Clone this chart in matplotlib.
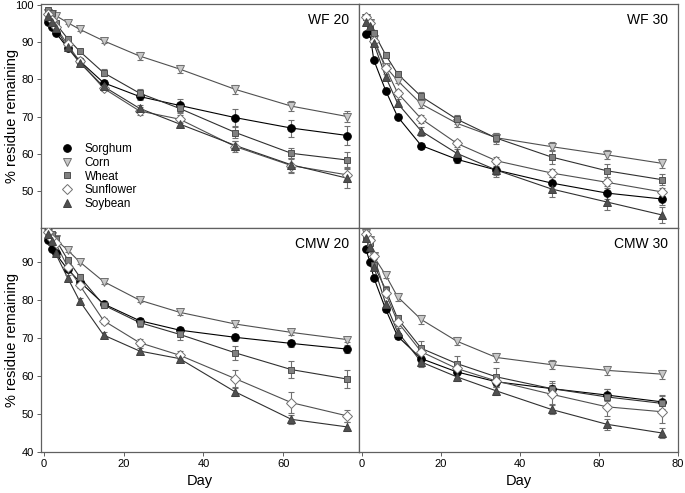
import matplotlib
matplotlib.use("Agg")
import matplotlib.pyplot as plt
import numpy as np

plt.rcParams['font.family'] = ['Liberation Sans', 'DejaVu Sans']

days = [1, 2, 3, 6, 9, 15, 24, 34, 48, 62, 76]
crops = ["Sorghum", "Corn", "Wheat", "Sunflower", "Soybean"]
panels = ["WF 20", "WF 30", "CMW 20", "CMW 30"]

# values (% residue remaining) per panel, per crop
wf20_sorghum = [95.5, 94.2, 92.6, 88.5, 85.0, 79.1, 75.4, 73.0, 69.7, 66.9, 64.9]
wf20_corn = [98.0, 97.6, 97.2, 95.3, 93.5, 90.4, 86.3, 82.8, 77.3, 72.8, 70.0]
wf20_wheat = [98.7, 98.0, 95.1, 91.0, 87.6, 81.8, 76.3, 72.2, 65.7, 60.1, 58.3]
wf20_sunflower = [97.5, 96.0, 94.2, 89.4, 84.9, 77.6, 71.5, 69.3, 61.9, 56.8, 54.3]
wf20_soybean = [97.0, 95.5, 93.8, 88.6, 84.5, 78.1, 72.2, 68.0, 62.2, 57.0, 53.4]

wf30_sorghum = [92.2, 92.5, 85.2, 77.0, 70.0, 62.2, 58.5, 55.6, 52.1, 49.4, 47.8]
wf30_corn = [96.4, 95.1, 90.8, 83.4, 79.7, 73.4, 68.2, 64.3, 61.9, 59.7, 57.4]
wf30_wheat = [96.9, 94.6, 92.6, 86.6, 81.5, 75.4, 69.3, 64.2, 59.1, 55.4, 53.0]
wf30_sunflower = [96.7, 95.2, 90.4, 83.0, 76.4, 69.4, 62.8, 58.1, 54.8, 52.3, 49.7]
wf30_soybean = [95.5, 94.3, 89.7, 80.7, 73.6, 66.1, 60.1, 55.6, 50.5, 47.0, 43.5]

cmw20_sorghum = [95.8, 93.6, 92.3, 88.1, 84.9, 79.0, 74.6, 72.1, 70.2, 68.6, 67.1]
cmw20_corn = [97.8, 97.0, 96.0, 93.2, 90.1, 84.9, 80.0, 76.8, 73.7, 71.5, 69.6]
cmw20_wheat = [98.5, 97.4, 96.0, 90.7, 86.2, 78.7, 74.1, 71.0, 66.1, 61.7, 59.2]
cmw20_sunflower = [98.0, 96.0, 95.0, 88.8, 84.0, 74.6, 68.8, 65.5, 59.3, 53.0, 49.5]
cmw20_soybean = [97.5, 95.5, 92.3, 85.9, 79.8, 70.8, 66.6, 64.6, 55.8, 48.6, 46.6]

cmw30_sorghum = [93.4, 90.1, 85.9, 77.6, 70.5, 64.6, 61.1, 58.5, 56.7, 55.0, 53.2]
cmw30_corn = [97.6, 95.8, 91.5, 86.6, 80.9, 74.9, 69.2, 64.9, 63.0, 61.5, 60.5]
cmw30_wheat = [96.7, 95.0, 89.3, 82.8, 75.2, 67.3, 63.3, 59.8, 56.7, 54.5, 52.8]
cmw30_sunflower = [97.4, 95.8, 91.5, 81.8, 74.3, 66.4, 62.0, 58.7, 55.2, 51.9, 50.6]
cmw30_soybean = [96.3, 94.1, 88.8, 79.1, 71.7, 63.7, 59.8, 56.1, 51.2, 47.3, 45.0]

# standard errors
wf20_err = [[0.5, 0.5, 0.6, 0.6, 0.6, 0.8, 1.0, 1.8, 2.2, 2.3, 2.5],
            [0.3, 0.3, 0.3, 0.4, 0.5, 0.6, 1.0, 1.2, 1.3, 1.3, 1.5],
            [0.3, 0.4, 0.5, 0.6, 0.6, 1.0, 1.2, 1.2, 1.5, 1.5, 2.2],
            [0.3, 0.4, 0.5, 0.6, 0.7, 0.8, 1.2, 1.0, 1.5, 2.0, 2.0],
            [0.3, 0.4, 0.5, 0.6, 0.7, 0.8, 1.0, 0.8, 1.2, 1.8, 2.5]]
wf30_err = [[0.5, 0.5, 0.6, 0.6, 0.6, 0.8, 1.0, 1.2, 1.5, 1.5, 1.5],
            [0.5, 0.5, 0.6, 0.8, 0.8, 1.0, 1.0, 1.2, 1.3, 1.2, 1.2],
            [0.5, 0.5, 0.6, 0.8, 0.8, 1.2, 1.2, 1.5, 1.8, 1.8, 1.5],
            [0.5, 0.5, 0.6, 0.8, 0.8, 1.0, 1.0, 1.0, 1.0, 1.0, 1.2],
            [0.5, 0.5, 0.6, 0.8, 1.0, 1.2, 1.2, 1.8, 2.2, 2.2, 2.2]]
cmw20_err = [[0.5, 0.5, 0.5, 0.6, 0.6, 0.6, 0.8, 0.8, 1.0, 1.0, 1.0],
             [0.3, 0.3, 0.3, 0.4, 0.5, 0.6, 0.6, 0.6, 0.8, 0.6, 0.5],
             [0.3, 0.4, 0.5, 0.6, 0.6, 0.8, 1.2, 1.5, 1.8, 2.2, 2.4],
             [0.3, 0.4, 0.5, 0.6, 0.7, 0.8, 1.0, 1.0, 2.2, 2.8, 1.5],
             [0.3, 0.4, 0.5, 0.6, 0.7, 0.8, 0.8, 0.8, 1.0, 1.2, 1.2]]
cmw30_err = [[0.5, 0.5, 0.6, 0.8, 0.8, 1.2, 1.5, 1.5, 1.5, 1.5, 1.8],
             [0.5, 0.5, 0.6, 0.8, 1.0, 1.2, 1.0, 1.2, 1.2, 1.2, 1.2],
             [0.5, 0.5, 0.6, 0.8, 1.0, 2.0, 2.0, 2.2, 2.0, 2.0, 2.0],
             [0.5, 0.5, 0.6, 0.8, 1.0, 1.5, 1.5, 1.5, 2.5, 2.5, 3.0],
             [0.5, 0.5, 0.6, 0.8, 1.0, 1.2, 1.2, 1.2, 1.2, 1.5, 1.2]]

panel_data = {
    "WF 20": [wf20_sorghum, wf20_corn, wf20_wheat, wf20_sunflower, wf20_soybean],
    "WF 30": [wf30_sorghum, wf30_corn, wf30_wheat, wf30_sunflower, wf30_soybean],
    "CMW 20": [cmw20_sorghum, cmw20_corn, cmw20_wheat, cmw20_sunflower, cmw20_soybean],
    "CMW 30": [cmw30_sorghum, cmw30_corn, cmw30_wheat, cmw30_sunflower, cmw30_soybean],
}
panel_err = {"WF 20": wf20_err, "WF 30": wf30_err, "CMW 20": cmw20_err, "CMW 30": cmw30_err}

styles = [
    dict(marker='o', mfc='black', mec='black', ms=5.5, line='black'),
    dict(marker='v', mfc='#c8c8c8', mec='#707070', ms=6, line='#505050'),
    dict(marker='s', mfc='#808080', mec='#505050', ms=5, line='#303030'),
    dict(marker='D', mfc='white', mec='#707070', ms=5, line='#505050'),
    dict(marker='^', mfc='#505050', mec='#404040', ms=5.5, line='#303030'),
]

fig = plt.figure(figsize=(6.85, 4.93), dpi=100)
W, H = 685, 493
def rect(x0, x1, y0, y1):
    return [x0 / W, 1 - y1 / H, (x1 - x0) / W, (y1 - y0) / H]

positions = {
    "WF 20": rect(41, 359, 4, 228),
    "WF 30": rect(359, 678, 4, 228),
    "CMW 20": rect(41, 359, 228, 452),
    "CMW 30": rect(359, 678, 228, 452),
}

spine_color = '#606060'
for name in panels:
    ax = fig.add_axes(positions[name])
    is_left = name.endswith("20")
    is_top = name.startswith("WF")
    for i, crop in enumerate(crops):
        st = styles[i]
        vals = panel_data[name][i]
        ax.plot(days, vals, '-', color=st['line'], lw=0.8, zorder=2)
        ax.errorbar(days, vals, yerr=panel_err[name][i], fmt='none',
                    ecolor='#707070', elinewidth=0.8, capsize=2.5, capthick=0.8, zorder=3)
        ax.plot(days, vals, linestyle='none', marker=st['marker'], ms=st['ms'],
                mfc=st['mfc'], mec=st['mec'], mew=0.7, zorder=4, label=crop)
    if is_left:
        ax.set_xlim(-0.65, 78.9)
        ax.set_xticks([0, 20, 40, 60])
    else:
        ax.set_xlim(-0.75, 80)
        ax.set_xticks([0, 20, 40, 60, 80])
    if is_top:
        ax.set_ylim(40, 100.3)
        ax.set_yticks([50, 60, 70, 80, 90, 100])
    else:
        ax.set_ylim(40, 99.0)
        ax.set_yticks([40, 50, 60, 70, 80, 90])
    for sp in ax.spines.values():
        sp.set_color(spine_color)
        sp.set_linewidth(0.9)
    ax.tick_params(axis='both', labelsize=8, length=3, width=0.7, color=spine_color, pad=2)
    if is_left:
        ax.set_ylabel("% residue remaining", fontsize=10.5)
        ax.yaxis.set_label_coords(-0.068, 0.5)
        ax.tick_params(axis='y', right=True, direction='out')
    else:
        ax.tick_params(axis='y', left=False, labelleft=False)
    if is_top:
        ax.tick_params(axis='x', bottom=False, labelbottom=False)
    else:
        ax.set_xlabel("Day", fontsize=10.5, labelpad=4)
    ax.text(0.97, 0.96, name, transform=ax.transAxes, ha='right', va='top', fontsize=10)
    if name == "WF 20":
        ax.legend(loc='lower left', bbox_to_anchor=(0.045, 0.06), frameon=False,
                  fontsize=8.5, handletextpad=0.9, labelspacing=0.14, borderaxespad=0,
                  handlelength=1.2)

fig.savefig("out.png", dpi=100)
